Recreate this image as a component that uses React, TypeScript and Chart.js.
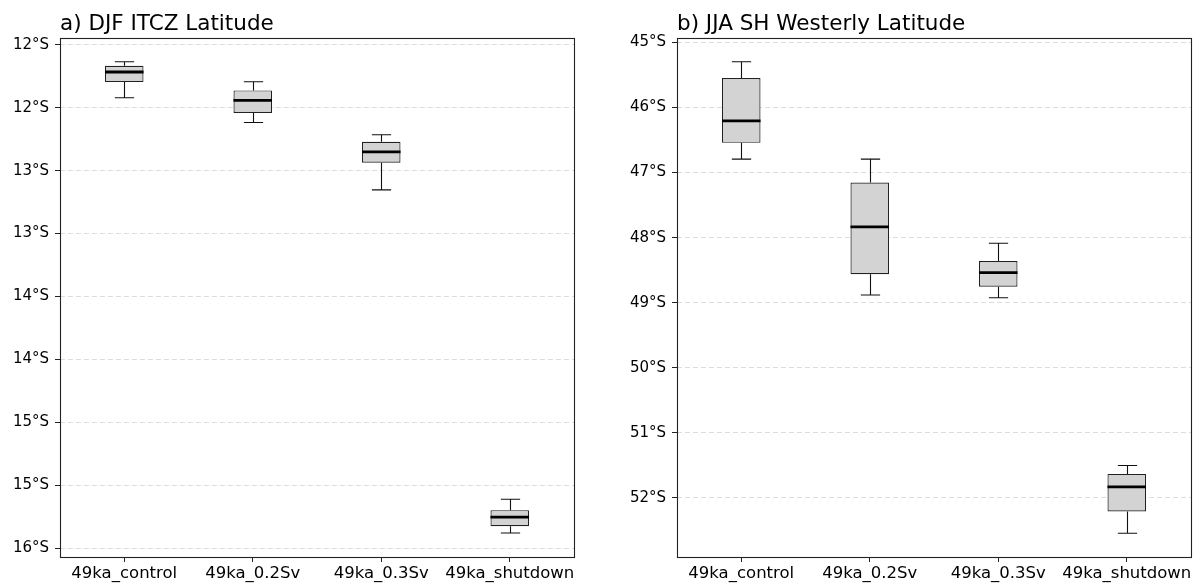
import React, { useEffect, useRef } from "react";
import { Chart, registerables } from "chart.js";

Chart.register(...registerables);

const categories = ["49ka_control", "49ka_0.2Sv", "49ka_0.3Sv", "49ka_shutdown"];

// Panel a: DJF ITCZ latitude (negative = south)
const itczTitle = "a) DJF ITCZ Latitude";
const itczWhiskerHigh = [-12.135, -12.294, -12.715, -15.609];
const itczQ3 = [-12.167, -12.363, -12.771, -15.696];
const itczMedian = [-12.217, -12.443, -12.851, -15.752];
const itczQ1 = [-12.297, -12.543, -12.938, -15.824];
const itczWhiskerLow = [-12.421, -12.618, -13.153, -15.877];
const itczTickValues = [-12, -12.5, -13, -13.5, -14, -14.5, -15, -15.5, -16];
const itczTickLabels = ["12°S", "12°S", "13°S", "13°S", "14°S", "14°S", "15°S", "15°S", "16°S"];
const itczRange = [-16.068, -11.947];

// Panel b: JJA SH westerly latitude
const westTitle = "b) JJA SH Westerly Latitude";
const westWhiskerHigh = [-45.297, -46.794, -48.086, -51.502];
const westQ3 = [-45.548, -47.154, -48.358, -51.631];
const westMedian = [-46.205, -47.835, -48.538, -51.831];
const westQ1 = [-46.543, -48.563, -48.754, -52.209];
const westWhiskerLow = [-46.794, -48.882, -48.923, -52.543];
const westTickValues = [-45, -46, -47, -48, -49, -50, -51, -52];
const westTickLabels = ["45°S", "46°S", "47°S", "48°S", "49°S", "50°S", "51°S", "52°S"];
const westRange = [-52.908, -44.932];

const FONT = "'DejaVu Sans', sans-serif";

type PanelProps = {
  title: string;
  whiskerHigh: number[];
  q3: number[];
  median: number[];
  q1: number[];
  whiskerLow: number[];
  tickValues: number[];
  tickLabels: string[];
  range: number[];
  width: number;
  height: number;
  yAxisWidth: number;
  padRight: number;
};

function BoxPanel(p: PanelProps) {
  const ref = useRef<HTMLCanvasElement | null>(null);
  useEffect(() => {
    if (!ref.current) return;
    const boxPlugin = {
      id: "boxExtras",
      afterDatasetsDraw(chart: any) {
        const ctx = chart.ctx;
        const yScale = chart.scales.y;
        const meta = chart.getDatasetMeta(0);
        ctx.save();
        ctx.strokeStyle = "#111";
        meta.data.forEach((bar: any, i: number) => {
          const x = Math.round(bar.x) + 0.5;
          const w = bar.width;
          const yQ3 = yScale.getPixelForValue(p.q3[i]);
          const yQ1 = yScale.getPixelForValue(p.q1[i]);
          const yHi = yScale.getPixelForValue(p.whiskerHigh[i]);
          const yLo = yScale.getPixelForValue(p.whiskerLow[i]);
          const yMed = yScale.getPixelForValue(p.median[i]);
          ctx.lineWidth = 1.1;
          ctx.beginPath();
          ctx.moveTo(x, yQ3);
          ctx.lineTo(x, yHi);
          ctx.moveTo(x - w / 4, yHi);
          ctx.lineTo(x + w / 4, yHi);
          ctx.moveTo(x, yQ1);
          ctx.lineTo(x, yLo);
          ctx.moveTo(x - w / 4, yLo);
          ctx.lineTo(x + w / 4, yLo);
          ctx.stroke();
          ctx.strokeStyle = "#000";
          ctx.lineWidth = 2.8;
          ctx.beginPath();
          ctx.moveTo(bar.x - w / 2, yMed);
          ctx.lineTo(bar.x + w / 2, yMed);
          ctx.stroke();
          ctx.strokeStyle = "#111";
        });
        ctx.restore();
      },
      afterDraw(chart: any) {
        const ctx = chart.ctx;
        const a = chart.chartArea;
        ctx.save();
        ctx.strokeStyle = "#222";
        ctx.lineWidth = 1.1;
        ctx.strokeRect(Math.round(a.left) + 0.5, Math.round(a.top) + 0.5, Math.round(a.right - a.left), Math.round(a.bottom - a.top));
        ctx.fillStyle = "#000";
        ctx.font = `21.5px ${FONT}`;
        ctx.textAlign = "left";
        ctx.textBaseline = "alphabetic";
        ctx.fillText(p.title, a.left, a.top - 8.5);
        ctx.restore();
      },
    };

    const chart = new Chart(ref.current, {
      type: "bar",
      data: {
        labels: categories,
        datasets: [
          {
            data: categories.map((_, i) => [p.q1[i], p.q3[i]]) as any,
            backgroundColor: "#d3d3d3",
            borderColor: "#222",
            borderWidth: 1.2,
            borderSkipped: false,
            barPercentage: 0.3,
            categoryPercentage: 1,
          },
        ],
      },
      options: {
        responsive: false,
        animation: false,
        devicePixelRatio: 1,
        events: [],
        layout: { padding: { left: 0, right: p.padRight, top: 38, bottom: 0 } },
        plugins: { legend: { display: false }, tooltip: { enabled: false }, title: { display: false } },
        scales: {
          x: {
            offset: true,
            grid: { offset: false, drawOnChartArea: false, drawTicks: true, tickLength: 5, tickColor: "#222", color: "#222" },
            border: { display: false },
            ticks: { color: "#000", font: { family: FONT, size: 16.5 }, padding: 2, maxRotation: 0, autoSkip: false },
            afterFit: (s: any) => {
              s.height = 27;
            },
          },
          y: {
            min: p.range[0],
            max: p.range[1],
            afterBuildTicks: (s: any) => {
              s.ticks = p.tickValues.map((v) => ({ value: v }));
            },
            afterFit: (s: any) => {
              s.width = p.yAxisWidth;
            },
            grid: { color: "#dddddd", lineWidth: 1, tickLength: 5, tickColor: "#222", tickWidth: 1 },
            border: { display: false, dash: [5, 3] },
            ticks: {
              color: "#000",
              font: { family: FONT, size: 15 },
              padding: 6,
              autoSkip: false,
              callback: (_v: any, i: number) => p.tickLabels[i],
            },
          },
        },
      },
      plugins: [boxPlugin],
    });
    return () => chart.destroy();
  }, []);
  return <canvas ref={ref} width={p.width} height={p.height} style={{ display: "block", width: p.width, height: p.height }} />;
}

export default function App() {
  return (
    <div style={{ position: "fixed", left: 0, top: 0, width: 1199, height: 584, background: "#fff" }}>
      <div style={{ position: "absolute", left: 0, top: 0 }}>
        <BoxPanel
          title={itczTitle}
          whiskerHigh={itczWhiskerHigh}
          q3={itczQ3}
          median={itczMedian}
          q1={itczQ1}
          whiskerLow={itczWhiskerLow}
          tickValues={itczTickValues}
          tickLabels={itczTickLabels}
          range={itczRange}
          width={590}
          height={584}
          yAxisWidth={60}
          padRight={16}
        />
      </div>
      <div style={{ position: "absolute", left: 600, top: 0 }}>
        <BoxPanel
          title={westTitle}
          whiskerHigh={westWhiskerHigh}
          q3={westQ3}
          median={westMedian}
          q1={westQ1}
          whiskerLow={westWhiskerLow}
          tickValues={westTickValues}
          tickLabels={westTickLabels}
          range={westRange}
          width={599}
          height={584}
          yAxisWidth={77}
          padRight={8}
        />
      </div>
    </div>
  );
}
